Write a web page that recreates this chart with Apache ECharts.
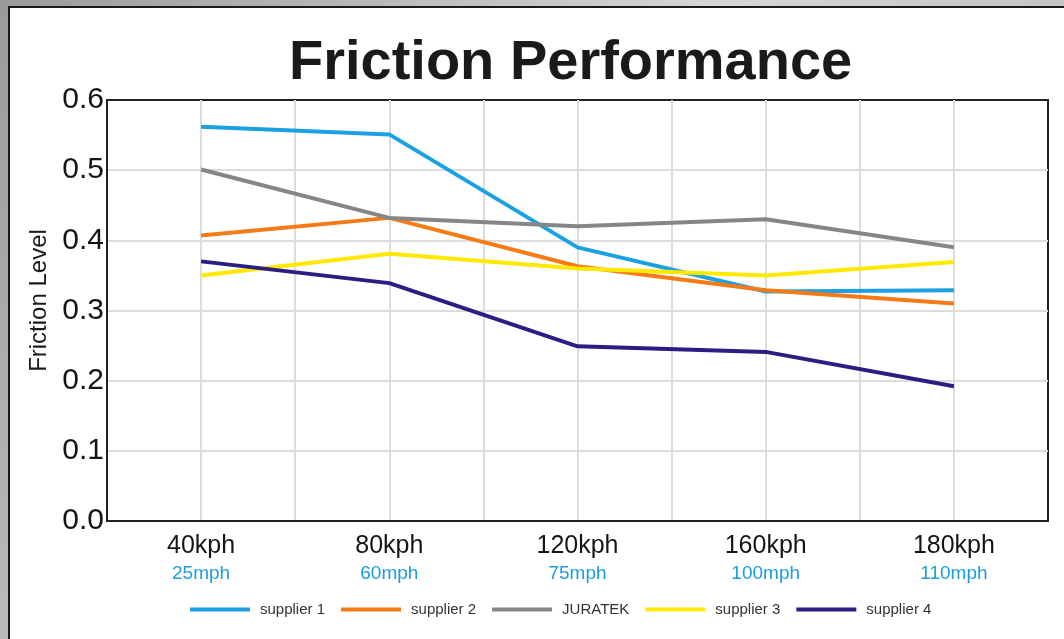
<!DOCTYPE html>
<html>
<head>
<meta charset="utf-8">
<title>Friction Performance</title>
<script src="https://cdn.jsdelivr.net/npm/echarts@6/dist/echarts.min.js"></script>
<style>
  html, body { margin: 0; padding: 0; }
  #main { width: 1064px; height: 639px; }
</style>
</head>
<body>
<div id="main"></div>
<script>
// categories (two-line labels)
var kph = ['40kph', '80kph', '120kph', '160kph', '180kph'];
var mph = ['25mph', '60mph', '75mph', '100mph', '110mph'];

// series values
var supplier1 = [0.562, 0.551, 0.390, 0.327, 0.329];
var supplier2 = [0.407, 0.432, 0.363, 0.329, 0.310];
var juratek   = [0.501, 0.432, 0.420, 0.430, 0.390];
var supplier3 = [0.350, 0.381, 0.360, 0.350, 0.369];
var supplier4 = [0.370, 0.339, 0.249, 0.241, 0.192];

var seriesNames  = ['supplier 1', 'supplier 2', 'JURATEK', 'supplier 3', 'supplier 4'];
var seriesData   = [supplier1, supplier2, juratek, supplier3, supplier4];
var seriesColors = ['#1ba1e2', '#f47b16', '#868686', '#ffe900', '#2b1d82'];

var font = '"Liberation Sans", Arial, sans-serif';
var gridColor = '#dcdcdc';

var myChart = echarts.init(document.getElementById('main'));

// x is a value axis so split lines fall both on and between the categories
function toPoints(arr) {
  var pts = [];
  for (var i = 0; i < arr.length; i++) {
    pts.push([i, arr[i]]);
  }
  return pts;
}

var series = [];
for (var i = 0; i < seriesNames.length; i++) {
  series.push({
    name: seriesNames[i],
    type: 'line',
    data: toPoints(seriesData[i]),
    showSymbol: false,
    symbol: 'none',
    lineStyle: { color: seriesColors[i], width: 4 },
    itemStyle: { color: seriesColors[i] },
    z: 3 + i
  });
}

var option = {
  animation: false,
  graphic: [
    {
      type: 'rect',
      z: -10,
      shape: { x: 0, y: 0, width: 1064, height: 639 },
      style: {
        fill: new echarts.graphic.LinearGradient(0, 0, 1, 1, [
          { offset: 0, color: '#9a9a9a' },
          { offset: 0.5, color: '#d6d6d6' },
          { offset: 1, color: '#b0b0b0' }
        ])
      }
    },
    {
      type: 'rect',
      z: -9,
      shape: { x: 9, y: 7, width: 1080, height: 660 },
      style: { fill: '#ffffff', stroke: '#1a1a1a', lineWidth: 2 }
    }
  ],
  title: {
    text: 'Friction Performance',
    left: 289,
    top: 36,
    padding: 0,
    textStyle: {
      fontFamily: font,
      fontWeight: 'bold',
      fontSize: 56,
      color: '#1a1a1a'
    }
  },
  legend: {
    data: seriesNames,
    left: 185,
    top: 597,
    icon: 'rect',
    itemWidth: 60,
    itemHeight: 4,
    itemGap: 16,
    textStyle: {
      fontFamily: font,
      fontSize: 15,
      color: '#333',
      padding: [0, 0, 0, 5]
    }
  },
  grid: {
    left: 107,
    right: 16,
    top: 100,
    bottom: 118,
    show: true,
    borderColor: '#222',
    borderWidth: 2,
    backgroundColor: '#fff'
  },
  xAxis: {
    type: 'value',
    min: -0.5,
    max: 4.5,
    interval: 0.5,
    axisLine: { show: true, onZero: false, lineStyle: { color: '#222', width: 2 } },
    axisTick: { show: false },
    splitLine: {
      show: true,
      showMinLine: false,
      showMaxLine: false,
      lineStyle: { color: gridColor, width: 2 }
    },
    axisLabel: {
      margin: 11,
      showMinLabel: true,
      showMaxLabel: true,
      formatter: function (v) {
        var idx = Math.round(v);
        if (Math.abs(v - idx) > 1e-6 || idx < 0 || idx >= kph.length) return '';
        return '{a|' + kph[idx] + '}\n{b|' + mph[idx] + '}';
      },
      rich: {
        a: { fontFamily: font, fontSize: 25, lineHeight: 28, color: '#151515' },
        b: { fontFamily: font, fontSize: 19, lineHeight: 28, color: '#1b9ddf' }
      }
    }
  },
  yAxis: {
    type: 'value',
    min: 0,
    max: 0.6,
    interval: 0.1,
    name: 'Friction Level',
    nameLocation: 'middle',
    nameGap: 55,
    nameTextStyle: { fontFamily: font, fontSize: 24, color: '#1a1a1a', padding: [0, 0, 0, 20] },
    axisLine: { show: true, onZero: false, lineStyle: { color: '#222', width: 2 } },
    axisTick: { show: false },
    splitLine: {
      show: true,
      showMinLine: false,
      showMaxLine: false,
      lineStyle: { color: gridColor, width: 2 }
    },
    axisLabel: {
      margin: 3,
      fontFamily: font,
      fontSize: 30,
      color: '#151515',
      padding: [0, 0, 10, 0],
      formatter: function (v) { return v.toFixed(1); }
    }
  },
  series: series
};

myChart.setOption(option);
</script>
</body>
</html>
